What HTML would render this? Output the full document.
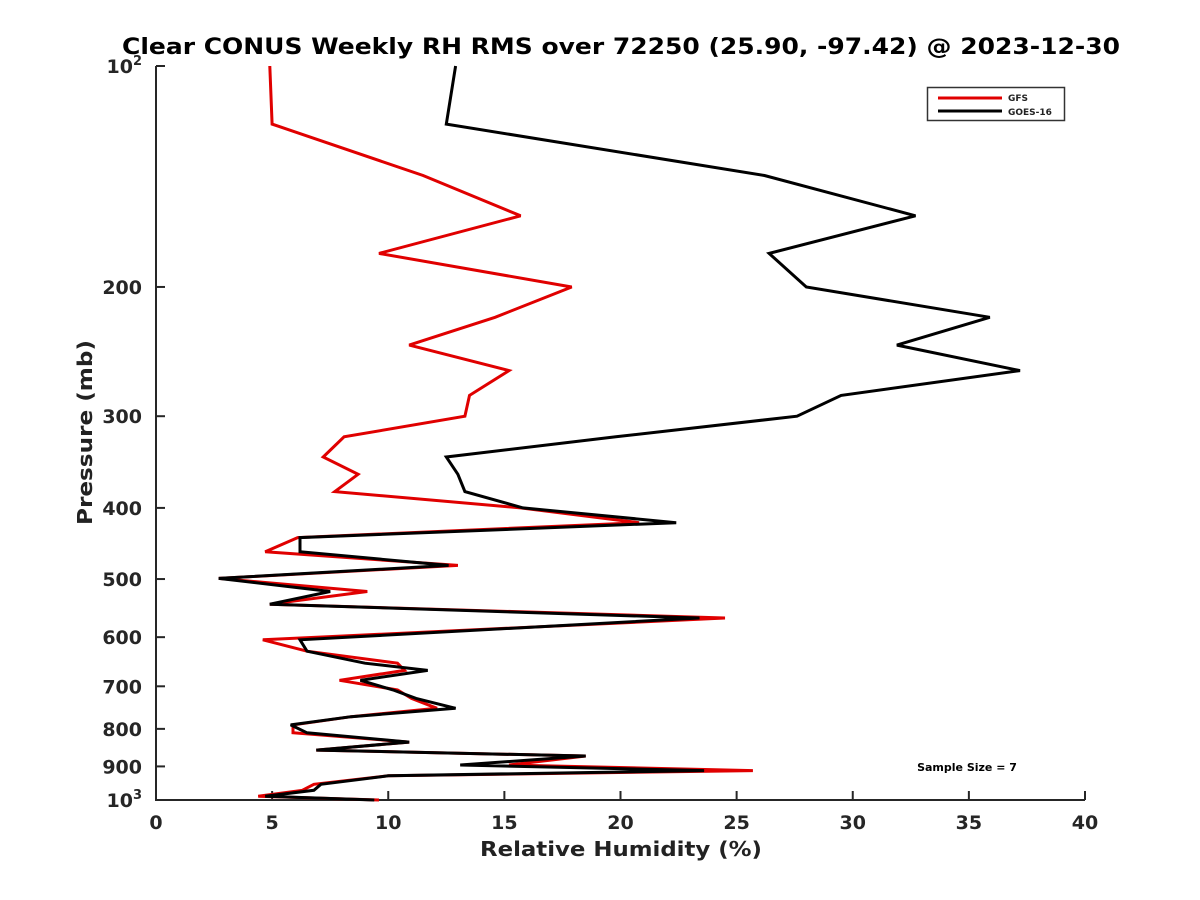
<!DOCTYPE html>
<html><head><meta charset="utf-8"><style>
html,body{margin:0;padding:0;background:#fff;}
svg{display:block;font-family:"DejaVu Sans","Liberation Sans",sans-serif;font-weight:bold;}
</style></head><body>
<svg id="chart" width="1200" height="900" viewBox="0 0 1200 900">
<text x="122" y="54" textLength="998" lengthAdjust="spacingAndGlyphs" font-size="22" fill="#000">Clear CONUS Weekly RH RMS over 72250 (25.90, -97.42) @ 2023-12-30</text>
<g id="axes"></g>
<g id="series"></g>
<text x="480" y="856" textLength="282" lengthAdjust="spacingAndGlyphs" font-size="20" fill="#222">Relative Humidity (%)</text>
<text transform="translate(92,525) rotate(-90)" textLength="185" lengthAdjust="spacingAndGlyphs" font-size="20" fill="#222">Pressure (mb)</text>
<g>
<rect x="927.5" y="87.5" width="137" height="33" fill="#fff" stroke="#333" stroke-width="1.5"/>
<line x1="938" y1="98" x2="1002" y2="98" stroke="#e00000" stroke-width="3"/>
<text x="1008" y="101" font-size="9" fill="#222">GFS</text>
<line x1="938" y1="111" x2="1002" y2="111" stroke="#000" stroke-width="3"/>
<text x="1008" y="115" font-size="9" fill="#222">GOES-16</text>
</g>
<text x="967" y="771" text-anchor="middle" font-size="11" fill="#000">Sample Size = 7</text>
</svg>
<script>
const pressureLevels = [100,120,141,160,180,200,220,240,260,281,300,320,341,360,380,400,419,439,459,479,499,520,541,565,605,627,651,666,687,708,727,750,770,790,810,834,855,871,896,912,927,952,970,988,1000];
const gfsValues = [4.9,5.0,11.5,15.7,9.6,17.9,14.6,10.9,15.2,13.5,13.3,8.1,7.2,8.7,7.7,15.7,20.8,6.1,4.7,13.0,2.7,9.1,4.9,24.5,4.6,6.5,10.4,10.7,7.9,10.4,11.0,12.1,8.4,5.9,5.9,10.9,6.9,18.5,15.2,25.7,10.0,6.8,6.3,4.4,9.6];
const goesValues = [12.9,12.5,26.2,32.7,26.4,28.0,35.9,31.9,37.2,29.5,27.6,19.8,12.5,13.0,13.3,15.8,22.4,6.2,6.2,12.6,2.7,7.5,4.9,23.4,6.2,6.5,9.0,11.7,8.8,10.2,11.2,12.9,8.4,5.8,6.5,10.9,6.9,18.5,13.1,23.6,10.0,7.1,6.8,4.7,9.4];
const xTicks = [0,5,10,15,20,25,30,35,40];
const yTickValues = [100,200,300,400,500,600,700,800,900,1000];
const yTickLabels = ["10^2","200","300","400","500","600","700","800","900","10^3"];

const L=156,R=1085,T=66,B=800;
const xScale=v=>L+(v-0)/(40-0)*(R-L);
const yScale=p=>T+Math.log10(p/100)*(B-T);
const NS="http://www.w3.org/2000/svg";
const axes=document.getElementById('axes');
const series=document.getElementById('series');
function mk(tag,attrs,parent){const e=document.createElementNS(NS,tag);for(const k in attrs)e.setAttribute(k,attrs[k]);parent.appendChild(e);return e;}

let e=mk('line',{x1:L,y1:T,x2:L,y2:B+1,stroke:'#262626','stroke-width':2},axes);


e=mk('line',{x1:L-1,y1:B,x2:R,y2:B,stroke:'#262626','stroke-width':2},axes);



xTicks.forEach(v=>{
  const x=xScale(v);
  const t=mk('line',{x1:x,y1:B,x2:x,y2:B-9,stroke:'#262626','stroke-width':2},axes);
  
  
  const lb=mk('text',{x:x,y:B+29,'text-anchor':'middle','font-size':19,fill:'#262626'},axes);
  lb.textContent=String(v);
  
  
});
yTickValues.forEach((p,i)=>{
  const y=yScale(p);
  const t=mk('line',{x1:L,y1:y,x2:L+9,y2:y,stroke:'#262626','stroke-width':2},axes);
  
  
  const lab=yTickLabels[i];
  const lb=mk('text',{x:L-14,y:y+7,'text-anchor':'end','font-size':19,fill:'#262626'},axes);
  if(lab.indexOf('^')>=0){
    const parts=lab.split('^');
    lb.textContent=parts[0];
    const s=mk('tspan',{'font-size':13,dy:-8},lb);
    s.textContent=parts[1];
  } else lb.textContent=lab;
  
  
});

function drawSeries(vals,color,name){
  const pts=vals.map((v,i)=>xScale(v).toFixed(1)+','+yScale(pressureLevels[i]).toFixed(1)).join(' ');
  const pl=mk('polyline',{points:pts,fill:'none',stroke:color,'stroke-width':3,'stroke-linejoin':'miter','stroke-miterlimit':3},series);
  
  
}
drawSeries(gfsValues,'#e00000','gfs-line');
drawSeries(goesValues,'#000','goes16-line');
</script>
</body></html>
